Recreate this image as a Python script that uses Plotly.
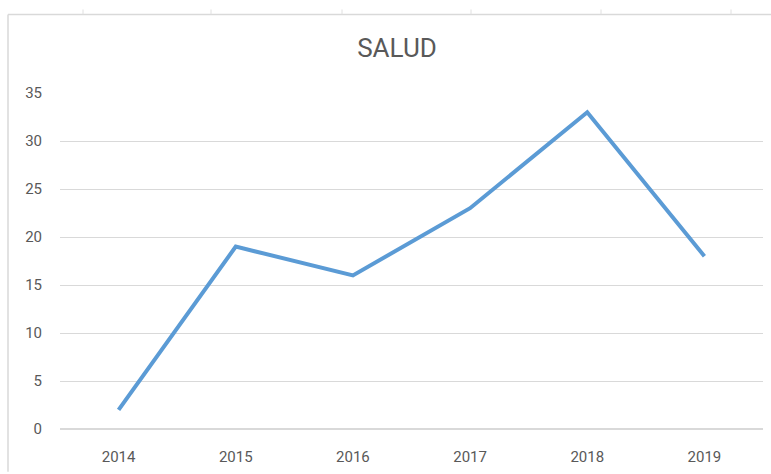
import plotly.graph_objects as go

years = ["2014", "2015", "2016", "2017", "2018", "2019"]
values = [2, 19, 16, 23, 33, 18]
y_ticks = [0, 5, 10, 15, 20, 25, 30, 35]

W, H = 771, 474
L, R, T, B = 60, 8, 93, 43

fig = go.Figure()
fig.add_trace(go.Scatter(
    x=years, y=values, mode="lines",
    line=dict(color="#5B9BD5", width=4, shape="linear"),
    hoverinfo="x+y", showlegend=False,
))

font_family = "Roboto, Liberation Sans, sans-serif"

fig.update_layout(
    width=W, height=H,
    margin=dict(l=L, r=R, t=T, b=B),
    paper_bgcolor="white", plot_bgcolor="white",
    title=dict(text="SALUD", x=397 / W, xanchor="center",
               y=1 - 48 / H, yanchor="middle", yref="container",
               font=dict(family=font_family, size=26, color="#595959")),
    xaxis=dict(type="category", range=[-0.5, 5.5], showgrid=False, zeroline=False,
               showline=False, ticks="outside", ticklen=14, tickcolor="rgba(0,0,0,0)",
               tickfont=dict(family=font_family, size=15, color="#595959")),
    yaxis=dict(range=[0, 35], tickvals=y_ticks, showgrid=True, gridcolor="#D9D9D9",
               gridwidth=1, zeroline=True, zerolinecolor="#D9D9D9", zerolinewidth=1.5,
               showline=False, ticks="outside", ticklen=14,
               tickcolor="rgba(0,0,0,0)",
               tickfont=dict(family=font_family, size=15, color="#595959")),
)

# Spreadsheet frame lines
shapes = []
shapes.append(dict(type="line", xref="paper", yref="paper",
                   x0=(8 - L) / (W - L - R), x1=(W - L) / (W - L - R),
                   y0=1 + (T - 14) / (H - T - B), y1=1 + (T - 14) / (H - T - B),
                   line=dict(color="#D9D9D9", width=1.5)))
shapes.append(dict(type="line", xref="paper", yref="paper",
                   x0=(8 - L) / (W - L - R), x1=(8 - L) / (W - L - R),
                   y0=-B / (H - T - B), y1=1 + (T - 14) / (H - T - B),
                   line=dict(color="#D9D9D9", width=1.5)))
for px in [83, 211, 342, 471, 601, 731]:
    shapes.append(dict(type="line", xref="paper", yref="paper",
                       x0=(px - L) / (W - L - R), x1=(px - L) / (W - L - R),
                       y0=1 + (T - 9) / (H - T - B), y1=1 + (T - 14) / (H - T - B),
                       line=dict(color="#E0E0E0", width=1)))
fig.update_layout(shapes=shapes)

fig.write_html("out.html", config={"displayModeBar": False},
               post_script="document.body.style.margin='0';document.body.style.overflow='hidden';")
